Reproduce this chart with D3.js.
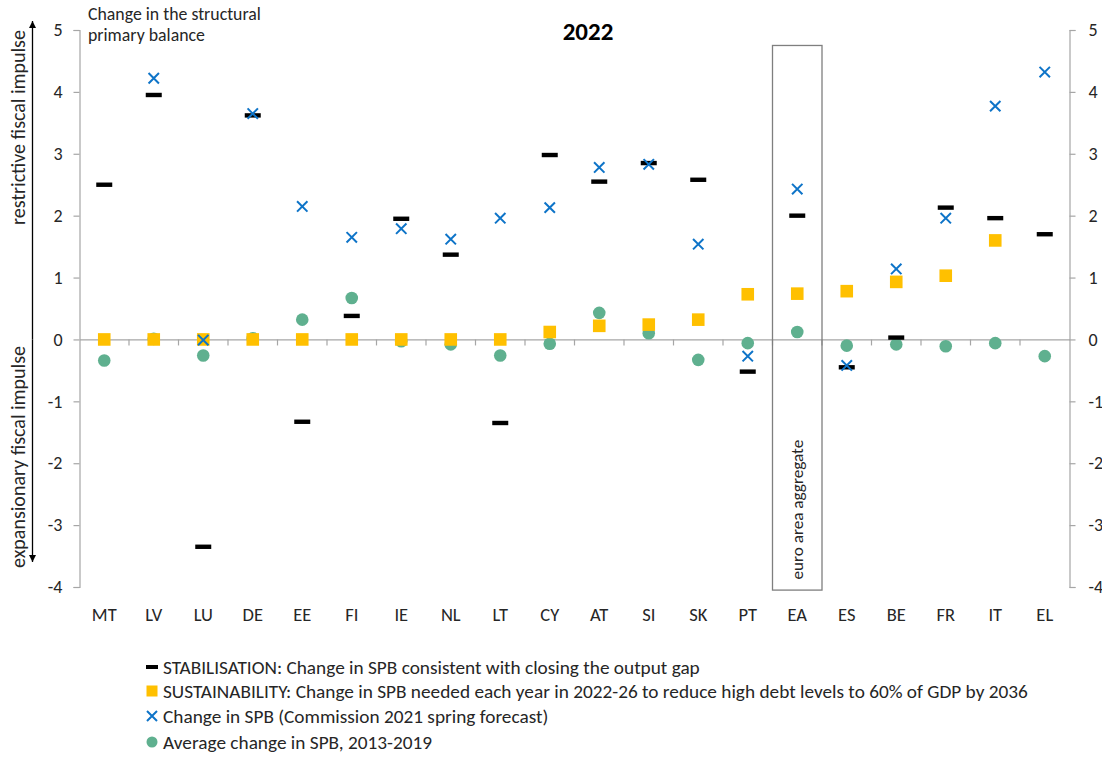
<!DOCTYPE html>
<html>
<head>
<meta charset="utf-8">
<script src="https://cdn.jsdelivr.net/npm/d3@7/dist/d3.min.js"></script>
<style>
  html, body { margin: 0; padding: 0; background: #fff; }
  svg { display: block; font-family: Carlito, Lato, "Open Sans", sans-serif; }
</style>
</head>
<body>
<svg id="chart" width="1102" height="762"></svg>
<script>
const categories = ["MT","LV","LU","DE","EE","FI","IE","NL","LT","CY","AT","SI","SK","PT","EA","ES","BE","FR","IT","EL"];
const stabilisation = [2.5, 3.95, -3.35, 3.62, -1.33, 0.38, 1.95, 1.37, -1.35, 2.98, 2.55, 2.85, 2.58, -0.52, 2.0, -0.45, 0.03, 2.13, 1.96, 1.70];
const sustainability = [0, 0, 0, 0, 0, 0, 0, 0, 0, 0.12, 0.22, 0.24, 0.32, 0.73, 0.74, 0.78, 0.93, 1.03, 1.60, null];
const spbForecast = [null, 4.22, -0.01, 3.65, 2.15, 1.65, 1.79, 1.62, 1.96, 2.13, 2.78, 2.83, 1.54, -0.27, 2.43, -0.42, 1.14, 1.96, 3.77, 4.32];
const avgChange = [-0.34, 0.01, -0.26, 0.02, 0.32, 0.67, -0.03, -0.08, -0.26, -0.07, 0.43, 0.10, -0.33, -0.06, 0.12, -0.10, -0.08, -0.11, -0.06, -0.27];
const yTicks = [-4, -3, -2, -1, 0, 1, 2, 3, 4, 5];
const legendLabels = [
  "STABILISATION: Change in SPB consistent with closing the output gap",
  "SUSTAINABILITY: Change in SPB needed each year in 2022-26 to reduce high debt levels to 60% of GDP by 2036",
  "Change in SPB (Commission 2021 spring forecast)",
  "Average change in SPB, 2013-2019"
];
const titleText = "2022";
const yAxisTitle = ["Change in the structural", "primary balance"];
const upLabel = "restrictive fiscal impulse";
const downLabel = "expansionary fiscal impulse";
const boxLabel = "euro area aggregate";
const boxCategory = "EA";

(function () {
const C = { stab: "#000000", sust: "#FFC000", spb: "#0E74C8", avg: "#5FB08F", axis: "#A6A6A6", text: "#262626" };

const svg = d3.select("#chart");
const pL = 79.5, pR = 1069.5, pT = 30, pB = 587;
const x = d3.scaleBand().domain(categories).range([pL, pR]);
const y = d3.scaleLinear().domain([-4, 5]).range([pB, pT]);

const yl = svg.append("g").attr("transform", `translate(${pL},0)`)
  .call(d3.axisLeft(y).tickValues(yTicks).tickSize(6).tickPadding(11).tickFormat(d3.format("d")));
const yr = svg.append("g").attr("transform", `translate(${pR},0)`)
  .call(d3.axisRight(y).tickValues(yTicks).tickSize(6).tickPadding(13).tickFormat(d3.format("d")));
[yl, yr].forEach(g => {
  g.select(".domain").attr("stroke", C.axis).attr("stroke-width", 1.2);
  g.selectAll(".tick line").attr("stroke", C.axis).attr("stroke-width", 1.2);
  g.selectAll(".tick text").attr("fill", C.text).style("font-size", "18px").style("font-family", "Carlito, Lato, sans-serif");
  g.selectAll(".tick text").text(d => d < 0 ? "-" + Math.abs(d) : d);
});

const xa = svg.append("g").attr("transform", `translate(0,${y(0)})`)
  .call(d3.axisBottom(x).tickSize(0).tickFormat(""));
xa.select(".domain").attr("stroke", C.axis).attr("stroke-width", 1.2);
xa.selectAll(".tick").remove();
xa.selectAll(".btick").data(categories.slice(1)).enter().append("line")
  .attr("x1", d => x(d)).attr("x2", d => x(d)).attr("y1", 0).attr("y2", 6)
  .attr("stroke", C.axis).attr("stroke-width", 1.2);

svg.append("g").selectAll("text").data(categories).enter().append("text")
  .attr("x", d => x(d) + x.bandwidth() / 2).attr("y", 621)
  .attr("text-anchor", "middle").attr("fill", C.text).style("font-size", "18.5px")
  .text(d => d);

svg.append("rect")
  .attr("x", x(boxCategory)).attr("y", y(4.75))
  .attr("width", x.bandwidth()).attr("height", y(-4.05) - y(4.75))
  .attr("fill", "none").attr("stroke", "#7f7f7f").attr("stroke-width", 1.3);
svg.append("text")
  .attr("transform", `translate(${x(boxCategory) + x.bandwidth() / 2 + 6},${y(-3.88)}) rotate(-90)`)
  .attr("fill", C.text).style("font-size", "17.2px").text(boxLabel);

svg.append("text").attr("x", 588).attr("y", 40).attr("text-anchor", "middle")
  .attr("fill", "#000").style("font-size", "25px").style("font-weight", "bold").text(titleText);
svg.append("text").attr("x", 88).attr("y", 20).attr("fill", C.text).style("font-size", "17.8px")
  .selectAll("tspan").data(yAxisTitle).enter().append("tspan")
  .attr("x", 88).attr("dy", (d, i) => i ? 21 : 0).text(d => d);

const defs = svg.append("defs");
defs.append("marker").attr("id", "ah").attr("viewBox", "0 0 10 10").attr("refX", 10).attr("refY", 5)
  .attr("markerWidth", 7).attr("markerHeight", 8).attr("markerUnits", "userSpaceOnUse").attr("orient", "auto")
  .append("path").attr("d", "M0,0 L10,5 L0,10 Z").attr("fill", "#000");
svg.append("line").attr("x1", 32.5).attr("x2", 32.5).attr("y1", y(0)).attr("y2", 21)
  .attr("stroke", "#000").attr("stroke-width", 1.3).attr("marker-end", "url(#ah)");
svg.append("line").attr("x1", 32.5).attr("x2", 32.5).attr("y1", y(0)).attr("y2", 562)
  .attr("stroke", "#000").attr("stroke-width", 1.3).attr("marker-end", "url(#ah)");
svg.append("text").attr("transform", `translate(25,127.5) rotate(-90)`).attr("text-anchor", "middle")
  .attr("fill", C.text).style("font-size", "20px").text(upLabel);
svg.append("text").attr("transform", `translate(25,457) rotate(-90)`).attr("text-anchor", "middle")
  .attr("fill", C.text).style("font-size", "20px").text(downLabel);

const cx = i => x(categories[i]) + x.bandwidth() / 2;

const g = svg.append("g");
g.selectAll(".avg").data(avgChange.map((v, i) => ({ v, i })).filter(d => d.v != null)).enter()
  .append("circle").attr("cx", d => cx(d.i)).attr("cy", d => y(d.v)).attr("r", 6.3).attr("fill", C.avg);
g.selectAll(".sust").data(sustainability.map((v, i) => ({ v, i })).filter(d => d.v != null)).enter()
  .append("rect").attr("x", d => cx(d.i) - 6.3).attr("y", d => y(d.v) - 6.3).attr("width", 12.6).attr("height", 12.6).attr("fill", C.sust);
g.selectAll(".stab").data(stabilisation.map((v, i) => ({ v, i })).filter(d => d.v != null)).enter()
  .append("rect").attr("x", d => cx(d.i) - 8).attr("y", d => y(d.v) - 2.2).attr("width", 16).attr("height", 4.4).attr("fill", C.stab);
const xs = 5.2;
g.selectAll(".spb").data(spbForecast.map((v, i) => ({ v, i })).filter(d => d.v != null)).enter()
  .append("path").attr("d", d => { const a = cx(d.i), b = y(d.v); return `M${a - xs},${b - xs}L${a + xs},${b + xs}M${a - xs},${b + xs}L${a + xs},${b - xs}`; })
  .attr("stroke", C.spb).attr("stroke-width", 2).attr("fill", "none");

const lg = svg.append("g");
const ly = [667, 691, 716, 742];
const lx = 152, tx = 163;
lg.selectAll("text").data(legendLabels).enter().append("text")
  .attr("x", tx).attr("y", (d, i) => ly[i] + 6.5).attr("fill", C.text).style("font-size", "19.3px").text(d => d);
lg.append("rect").attr("x", lx - 6).attr("y", ly[0] - 2).attr("width", 12).attr("height", 4).attr("fill", C.stab);
lg.append("rect").attr("x", lx - 5.5).attr("y", ly[1] - 5.5).attr("width", 11).attr("height", 11).attr("fill", C.sust);
lg.append("path").attr("d", `M${lx - 5},${ly[2] - 5}L${lx + 5},${ly[2] + 5}M${lx - 5},${ly[2] + 5}L${lx + 5},${ly[2] - 5}`)
  .attr("stroke", C.spb).attr("stroke-width", 2);
lg.append("circle").attr("cx", lx).attr("cy", ly[3]).attr("r", 5.5).attr("fill", C.avg);
})();
</script>
</body>
</html>
